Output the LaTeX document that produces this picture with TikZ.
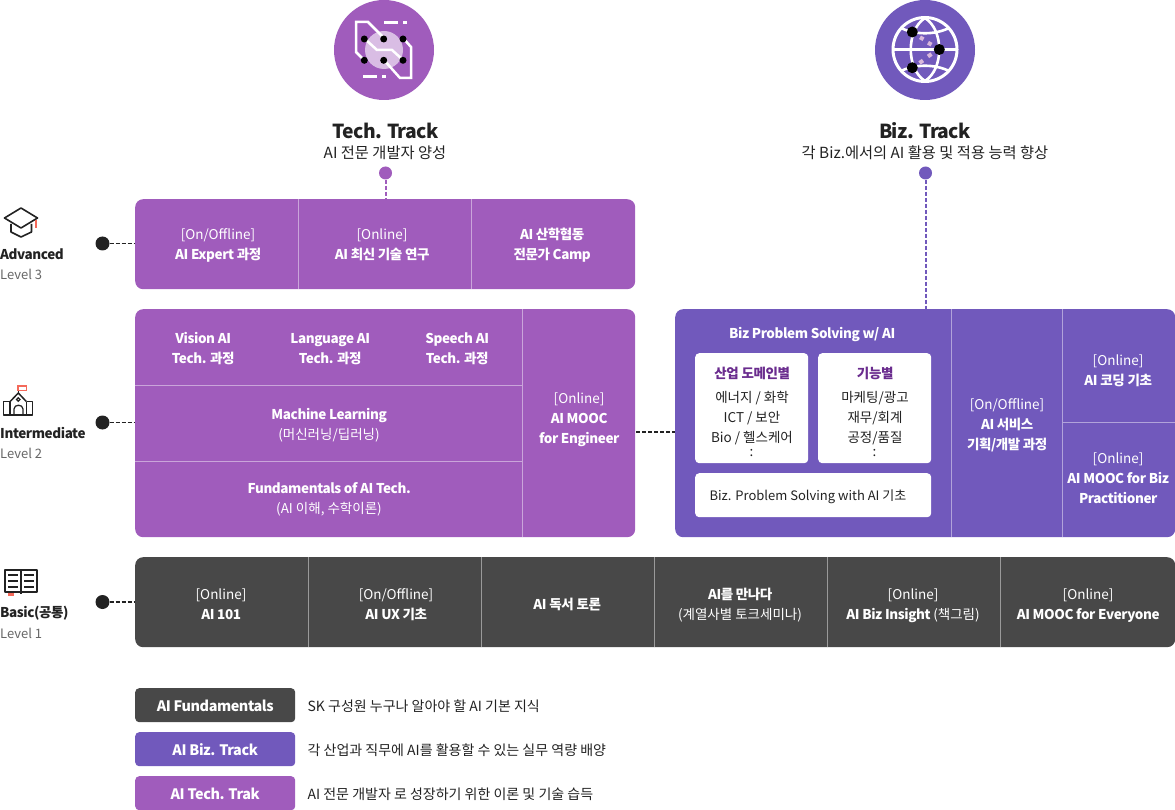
\documentclass[tikz,border=0pt]{standalone}
\usepackage{fontspec}
\setmainfont{Noto Sans CJK KR}[BoldFeatures={LetterSpace=-3}]
\usetikzlibrary{positioning,calc,arrows.meta}
\definecolor{techc}{HTML}{A05CBC}
\definecolor{bizc}{HTML}{7159BC}
\definecolor{basec}{HTML}{484848}
\definecolor{inkc}{HTML}{222222}
\definecolor{greyc}{HTML}{666666}
\definecolor{redc}{HTML}{F4695A}
\definecolor{deepc}{HTML}{6A2C8E}
\definecolor{palec}{HTML}{D9B8DB}
\tikzset{
	panel/.style={rounded corners=8pt,minimum width=#1,inner sep=0,anchor=north west},
	cell/.style={text=white,align=center,font=\fontsize{13.5}{20}\selectfont,inner sep=0},
	sepline/.style={draw=white,draw opacity=.45,line width=.8pt},
	whitebox/.style={fill=white,rounded corners=4pt,inner sep=0,anchor=north west},
	boxtext/.style={text=inkc,align=center,font=\fontsize{13.5}{20}\selectfont,inner sep=0},
	dotnode/.style={circle,fill=inkc,minimum size=14pt,inner sep=0},
	linkdash/.style={dash pattern=on 4pt off 2pt,line width=1.8pt,color=inkc},
	trackdash/.style={dash pattern=on 4pt off 2pt,line width=2pt},
	lvlname/.style={font=\fontsize{13.5}{18}\selectfont\bfseries,text=inkc,inner sep=0,anchor=west},
	lvlnum/.style={font=\fontsize{13}{18}\selectfont,text=greyc,inner sep=0,anchor=west},
	legendbox/.style={rounded corners=4pt,minimum width=160pt,minimum height=34pt,inner sep=0,anchor=north west,text=white,text height=13pt,text depth=0pt,font=\fontsize{14.4}{18}\selectfont\bfseries},
	legendtext/.style={font=\fontsize{14}{18}\selectfont,text=inkc,inner sep=0,anchor=west,yshift=-1pt},
	icon/.style={line width=1.6pt,color=inkc,line join=round},
	white line/.style={draw=white,line width=2.5pt,line join=miter}
}
\begin{document}
\begin{tikzpicture}[x=1pt,y=-1pt]
	\useasboundingbox (0,0) rectangle (1175,810);
	%%%tech head
	\node[circle,fill=techc,minimum size=100pt,inner sep=0] (techlogo) at (384,50) {};
	\node[circle,fill=white,fill opacity=.6,minimum size=38pt,inner sep=0] (techglow) at (384,50) {};
	\draw[white line] (364,60) -- (356,52) -- (356,22) -- (368,22) -- (384,38);
	\draw[white line] (403,38) -- (411,47) -- (411,78) -- (400,78) -- (384,60);
	\draw[white line] (365,39) -- (377,50) -- (392,50) -- (403,60);
	\draw[white line] (384,22.7) -- (398,22.7) (403,22.7) -- (407,22.7) (363,76.7) -- (377,76.7) (382,76.7) -- (386,76.7);
	\foreach \x in {364.3,383.7,403}
		\foreach \y in {39,60.3}
			\node[circle,fill=black,minimum size=7pt,inner sep=0] at (\x,\y) {};
	\node[font=\fontsize{19.3}{24}\selectfont\bfseries,text=inkc,inner sep=0] (techname) at (385.5,131) {Tech. Track};
	\node[font=\fontsize{15.3}{18}\selectfont,text=inkc,inner sep=0] (techsub) at (385,152.5) {AI 전문 개발자 양성};
	\node[circle,fill=techc,minimum size=13pt,inner sep=0] (techdot) at (385.5,173) {};
	%%%biz head
	\node[circle,fill=bizc,minimum size=100pt,inner sep=0] (bizlogo) at (925,50) {};
	\node[circle,draw=white,line width=3pt,minimum size=64pt,inner sep=0] (globe) at (925,49.5) {};
	\draw[white line,line width=2.6pt] (893,49.5) -- (957,49.5) (901,28) .. controls (915,35) and (935,35) .. (949,28) (901,71) .. controls (915,64) and (935,64) .. (949,71);
	\draw[white line,line width=2.6pt] (925,18) .. controls (906,30) and (906,69) .. (925,81) .. controls (944,69) and (944,30) .. (925,18);
	\draw[palec,line width=4pt] (920,37.3) -- (923.5,39.3) (928,42.7) -- (931.5,44.7) (928,56.5) -- (931.5,54) (919.5,63) -- (923,60.5);
	\node[circle,fill=black,minimum size=11pt,inner sep=0] (nodea) at (912.3,32) {};
	\node[circle,fill=black,minimum size=11pt,inner sep=0] (nodeb) at (939.3,49.5) {};
	\node[circle,fill=black,minimum size=11pt,inner sep=0] (nodec) at (912.3,67.7) {};
	\node[font=\fontsize{19.3}{24}\selectfont\bfseries,text=inkc,inner sep=0] (bizname) at (925,131) {Biz. Track};
	\node[font=\fontsize{15.3}{18}\selectfont,text=inkc,inner sep=0] (bizsub) at (925,152.5) {각 Biz.에서의 AI 활용 및 적용 능력 향상};
	\node[circle,fill=bizc,minimum size=13pt,inner sep=0] (bizdot) at (925.5,173) {};
	%%%advanced
	\node[panel=500pt,fill=techc,minimum height=90pt] (advpanel) at (135,199) {};
	\draw[sepline] (298.5,199) -- (298.5,289) (471.5,199) -- (471.5,289);
	\node[cell] (advone) at (218,245) {[On/Offline]\\\textbf{AI Expert 과정}};
	\node[cell] (advtwo) at (382,245) {[Online]\\\textbf{AI 최신 기술 연구}};
	\node[cell] (advthree) at (552,245) {\textbf{AI 산학협동}\\\textbf{전문가 Camp}};
	%%%intermediate
	\node[panel=500pt,fill=techc,minimum height=228pt] (midpanel) at (135,309) {};
	\draw[sepline] (522.5,309) -- (522.5,537) (135,385) -- (522.5,385) (135,461) -- (522.5,461);
	\node[cell] (vision) at (203,349) {\textbf{Vision AI}\\\textbf{Tech. 과정}};
	\node[cell] (language) at (330,349) {\textbf{Language AI}\\\textbf{Tech. 과정}};
	\node[cell] (speech) at (457,349) {\textbf{Speech AI}\\\textbf{Tech. 과정}};
	\node[cell] (mlearn) at (329,425) {\textbf{Machine Learning}\\(머신러닝/딥러닝)};
	\node[cell] (fundam) at (329,499) {\textbf{Fundamentals of AI Tech.}\\(AI 이해, 수학이론)};
	\node[cell] (mooceng) at (579,420) {[Online]\\\textbf{AI MOOC}\\\textbf{for Engineer}};
	%%%biz panel
	\node[panel=500pt,fill=bizc,minimum height=228pt] (bizpanel) at (675,309) {};
	\draw[sepline] (951.5,309) -- (951.5,537) (1062.5,309) -- (1062.5,537) (1062.5,422.5) -- (1175,422.5);
	\node[cell] (solvetitle) at (812,335) {\textbf{Biz Problem Solving w/ AI}};
	\node[whitebox,minimum width=113pt,minimum height=110pt] (domainbox) at (695,353) {};
	\node[whitebox,minimum width=113pt,minimum height=110pt] (funcbox) at (818,353) {};
	\node[whitebox,minimum width=236pt,minimum height=44pt] (basicbox) at (695,473) {};
	\node[boxtext,text=deepc] (domainhead) at (752,373) {\textbf{산업 도메인별}};
	\node[boxtext,below=11.5pt of domainhead] (domainlist) {에너지 / 화학\\ICT / 보안\\Bio / 헬스케어};
	\node[boxtext] (domaindots) at (751.5,453) {:};
	\node[boxtext,text=deepc] (funchead) at (875,373) {\textbf{기능별}};
	\node[boxtext,below=11.5pt of funchead] (funclist) {마케팅/광고\\재무/회계\\공정/품질};
	\node[boxtext] (funcdots) at (874.5,453) {:};
	\node[boxtext,font=\fontsize{13}{20}\selectfont] (basictext) at (808,497) {Biz. Problem Solving with AI 기초};
	\node[cell] (service) at (1007,425) {[On/Offline]\\\textbf{AI 서비스}\\\textbf{기획/개발 과정}};
	\node[cell] (coding) at (1118,371) {[Online]\\\textbf{AI 코딩 기초}};
	\node[cell] (moocbiz) at (1118,478) {[Online]\\\textbf{AI MOOC for Biz}\\\textbf{Practitioner}};
	%%%basic
	\node[panel=1040pt,fill=basec,minimum height=90pt] (basepanel) at (135,557) {};
	\foreach \x in {308,481,654,827,1000}
		\draw[sepline] (\x+.5,557) -- (\x+.5,647);
	\node[cell] (baseone) at (221,604) {[Online]\\\textbf{AI 101}};
	\node[cell] (basetwo) at (396,605) {[On/Offline]\\\textbf{AI UX 기초}};
	\node[cell] (basethree) at (567,605) {\textbf{AI 독서 토론}};
	\node[cell] (basefour) at (740,605) {\textbf{AI를 만나다}\\(계열사별 토크세미나)};
	\node[cell] (basefive) at (913,606) {[Online]\\\textbf{AI Biz Insight} (책그림)};
	\node[cell] (basesix) at (1088,606) {[Online]\\\textbf{AI MOOC for Everyone}};
	%%%levels
	\draw[icon] (21,208) -- (37.5,218) -- (21,228) -- (4.5,218) -- cycle;
	\draw[icon] (11,224) -- (11,232) -- (21,237) -- (31.5,232) -- (31.5,224);
	\draw[redc,line width=1.4pt] (36,220) -- (36,228);
	\node[lvlname] (advname) at (0,254) {Advanced};
	\node[lvlnum] (advnum) at (0,274) {Level 3};
	\draw[redc,line width=1.6pt] (18,386) rectangle (26.5,390.5);
	\draw[icon,line width=1.5pt] (18.3,391) -- (18.3,393);
	\draw[icon,line width=1.5pt] (10,401.7) -- (18.3,393) -- (26.5,401.7);
	\draw[icon,line width=1.5pt] (10,401.7) -- (3.7,401.7) -- (3.7,415) -- (32.7,415) -- (32.7,401.7) -- (26.5,401.7);
	\draw[icon,line width=1.5pt] (10,401.7) -- (10,415) (26.5,401.7) -- (26.5,415);
	\draw[icon,line width=1.3pt] (14,415) -- (14,409) .. controls (14,404) and (23,404) .. (23,409) -- (23,415);
	\node[circle,draw=inkc,line width=1.2pt,minimum size=3.5pt,inner sep=0] (bell) at (18.3,399.5) {};
	\node[lvlname] (midname) at (0,433) {Intermediate};
	\node[lvlnum] (midnum) at (0,453) {Level 2};
	\draw[icon] (5,570) rectangle (37,592) (21,570) -- (21,594);
	\draw[icon,line width=1.2pt] (8,575) -- (18,575) (8,581) -- (18,581) (8,587) -- (18,587) (24,575) -- (34,575) (24,581) -- (34,581) (24,587) -- (34,587);
	\fill[redc] (8,593) rectangle (14,596);
	\node[lvlname] (basename) at (0,613) {Basic(공통)};
	\node[lvlnum] (basenum) at (0,633) {Level 1};
	\node[dotnode] (advdot) at (102.5,243.5) {};
	\node[dotnode] (middot) at (102.5,422.5) {};
	\node[dotnode] (basedot) at (102.5,602) {};
	\draw[linkdash] (advdot) -- (advdot -| advpanel.west);
	\draw[linkdash] (middot) -- (middot -| midpanel.west);
	\draw[linkdash] (basedot) -- (basedot -| basepanel.west);
	\draw[trackdash,color=techc] (techdot) -- (techdot |- advpanel.north);
	\draw[trackdash,color=bizc] (bizdot) -- (bizdot |- bizpanel.north);
	\coordinate (midgap) at ($(midpanel.east)+(1,9)$);
	\draw[linkdash] (midgap) -- (midgap -| bizpanel.west);
	%%%legend
	\node[legendbox,fill=basec] (legfund) at (135,688) {AI Fundamentals};
	\node[legendbox,fill=bizc] (legbiz) at (135,732) {AI Biz. Track};
	\node[legendbox,fill=techc] (legtech) at (135,776) {AI Tech. Trak};
	\node[legendtext,right=12pt of legfund] (legfundtext) {SK 구성원 누구나 알아야 할 AI 기본 지식};
	\node[legendtext,right=12pt of legbiz] (legbiztext) {각 산업과 직무에 AI를 활용할 수 있는 실무 역량 배양};
	\node[legendtext,right=12pt of legtech] (legtechtext) {AI 전문 개발자 로 성장하기 위한 이론 및 기술 습득};
\end{tikzpicture}
\end{document}
